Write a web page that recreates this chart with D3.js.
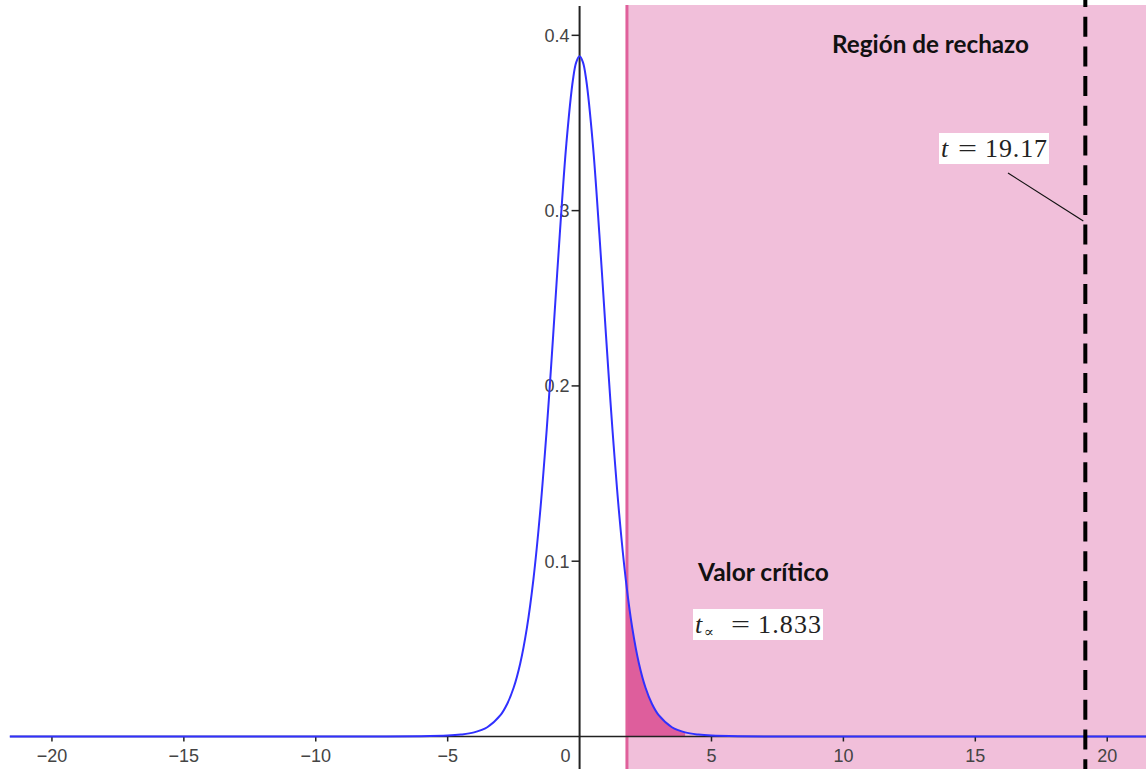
<!DOCTYPE html>
<html>
<head>
<meta charset="utf-8">
<script src="https://cdn.jsdelivr.net/npm/d3@7"></script>
<style>
  html, body { margin: 0; padding: 0; background: #ffffff; }
  svg { display: block; }
</style>
</head>
<body>
<svg id="chart" width="1146" height="769"></svg>
<script>
// ---- data ----
const curveX = [-21.6, -10, -8, -6, -5, -4.5, -4, -3.5, -3, -2.75, -2.5, -2.25, -2, -1.75, -1.5, -1.25, -1.125, -1, -0.75, -0.5, -0.25, -0.125, 0,
                0.125, 0.25, 0.5, 0.75, 1, 1.125, 1.25, 1.5, 1.75, 2, 2.25, 2.5, 2.75, 3, 3.5, 4, 4.5, 5, 6, 8, 10, 21.6];
const curveY = [0, 0.000002, 0.000013, 0.000124, 0.000504, 0.0011, 0.00235, 0.00529, 0.01213, 0.0184, 0.0278, 0.0417, 0.0617, 0.0897, 0.1272, 0.1743, 0.2010, 0.2291, 0.2866, 0.3384, 0.3748, 0.3847, 0.3880,
                0.3847, 0.3748, 0.3384, 0.2866, 0.2291, 0.2010, 0.1743, 0.1272, 0.0897, 0.0617, 0.0417, 0.0278, 0.0184, 0.01213, 0.00529, 0.00235, 0.0011, 0.000504, 0.000124, 0.000013, 0.000002, 0];
const tailX = [1.833, 2, 2.25, 2.5, 2.75, 3, 3.5, 4];
const tailY = [0.0794, 0.0617, 0.0417, 0.0278, 0.0184, 0.01213, 0.00529, 0.00235];
const xTicks = [-20, -15, -10, -5, 5, 10, 15, 20];
const xTickLabels = ["\u221220", "\u221215", "\u221210", "\u22125", "5", "10", "15", "20"];
const yTicks = [0.1, 0.2, 0.3, 0.4];
const yTickLabels = ["0.1", "0.2", "0.3", "0.4"];
const criticalValue = 1.833;
const tStatistic = 19.17;
const regionLabel = "Región de rechazo";
const criticalLabel = "Valor crítico";
const tStatLabel = "19.17";
const criticalNumLabel = "1.833";

// ---- layout ----
const W = 1146, H = 769;
const svg = d3.select("#chart");
const x = d3.scaleLinear().domain([-21.59, 21.47]).range([10, 1146]);
const y = d3.scaleLinear().domain([-0.01854, 0.4173]).range([769, 5]);

// rejection region
svg.append("rect")
  .attr("x", x(criticalValue)).attr("y", 5)
  .attr("width", W - x(criticalValue)).attr("height", H - 5)
  .attr("fill", "#f1bfda");

// shaded tail area
const tail = tailX.map((v, i) => [v, tailY[i]]);
svg.append("path")
  .datum(tail)
  .attr("d", d3.area().x(d => x(d[0])).y0(y(0)).y1(d => y(d[1])).curve(d3.curveCatmullRom))
  .attr("fill", "#de5e9c");

// critical line
svg.append("line")
  .attr("x1", x(criticalValue) - 1).attr("x2", x(criticalValue) - 1)
  .attr("y1", 5).attr("y2", H)
  .attr("stroke", "#e0609b").attr("stroke-width", 3);

const sans = "'Liberation Sans', Arial, sans-serif";
// x axis
const xAxisG = svg.append("g").attr("transform", `translate(0,${y(0)})`);
xAxisG.append("line").attr("x1", 10).attr("x2", W).attr("y1", 0).attr("y2", 0)
  .attr("stroke", "#222").attr("stroke-width", 1.5);
xAxisG.selectAll("line.tick").data(xTicks).enter().append("line")
  .attr("class", "tick")
  .attr("x1", d => x(d)).attr("x2", d => x(d)).attr("y1", 0).attr("y2", 5)
  .attr("stroke", "#222").attr("stroke-width", 1.5);
xAxisG.selectAll("text.tl").data(xTicks).enter().append("text")
  .attr("class", "tl")
  .attr("x", d => x(d)).attr("y", 25)
  .attr("text-anchor", "middle")
  .attr("font-family", sans)
  .attr("font-size", 18).attr("fill", "#444")
  .text((d, i) => xTickLabels[i]);
xAxisG.append("text")
  .attr("x", x(0) - 9).attr("y", 25)
  .attr("text-anchor", "end")
  .attr("font-family", sans)
  .attr("font-size", 18).attr("fill", "#444")
  .text("0");

// y axis
const yAxisG = svg.append("g").attr("transform", `translate(${x(0)},0)`);
yAxisG.append("line").attr("x1", 0).attr("x2", 0).attr("y1", 6).attr("y2", H)
  .attr("stroke", "#222").attr("stroke-width", 2);
yAxisG.selectAll("line.tick").data(yTicks).enter().append("line")
  .attr("class", "tick")
  .attr("x1", -8).attr("x2", 0).attr("y1", d => y(d)).attr("y2", d => y(d))
  .attr("stroke", "#222").attr("stroke-width", 1.5);
yAxisG.selectAll("text.tl").data(yTicks).enter().append("text")
  .attr("class", "tl")
  .attr("x", -10).attr("y", d => y(d))
  .attr("dy", "0.35em")
  .attr("text-anchor", "end")
  .attr("font-family", sans)
  .attr("font-size", 18).attr("fill", "#444")
  .text((d, i) => yTickLabels[i]);

// density curve
const curve = curveX.map((v, i) => [v, curveY[i]]);
svg.append("path")
  .datum(curve)
  .attr("d", d3.line().x(d => x(d[0])).y(d => y(d[1])).curve(d3.curveCatmullRom))
  .attr("fill", "none").attr("stroke", "#3030ff").attr("stroke-width", 2);

// t statistic dashed line
svg.append("line")
  .attr("x1", x(tStatistic)).attr("x2", x(tStatistic))
  .attr("y1", 0).attr("y2", H)
  .attr("stroke", "#000").attr("stroke-width", 4)
  .attr("stroke-dasharray", "20,9.7").attr("stroke-dashoffset", 13);

// leader line
svg.append("line")
  .attr("x1", 1008).attr("y1", 173).attr("x2", x(tStatistic) - 2).attr("y2", 221)
  .attr("stroke", "#111").attr("stroke-width", 1.2);

// text helpers
function boldLabel(txt, xL, yC, targetW) {
  const t = svg.append("text")
    .attr("x", xL).attr("y", yC).attr("dy", "0.35em")
    .attr("font-family", "Lato, 'Open Sans', sans-serif")
    .attr("font-weight", "bold").attr("font-size", 21)
    .attr("fill", "#111").text(txt);
  const w = t.node().getComputedTextLength();
  t.attr("font-size", 21 * targetW / w);
}
boldLabel(regionLabel, 832, 45, 197);
boldLabel(criticalLabel, 698, 572, 131);

const serif = "'Liberation Serif', 'DejaVu Serif', serif";
// box for the t statistic
svg.append("rect").attr("x", 939).attr("y", 133).attr("width", 110).attr("height", 31).attr("fill", "#fff");
const g1 = svg.append("g").attr("font-family", serif).attr("fill", "#222").attr("font-size", 26);
g1.append("text").attr("x", 941).attr("y", 157).attr("font-style", "italic").text("t");
g1.append("text").attr("x", 958).attr("y", 157).attr("textLength", 19).attr("lengthAdjust", "spacingAndGlyphs").text("=");
g1.append("text").attr("x", 985).attr("y", 157).attr("textLength", 62).attr("lengthAdjust", "spacing").text(tStatLabel);

// box for the critical value
svg.append("rect").attr("x", 693).attr("y", 609).attr("width", 130).attr("height", 31).attr("fill", "#fff");
const g2 = svg.append("g").attr("font-family", serif).attr("fill", "#222");
g2.append("text").attr("x", 695).attr("y", 633).attr("font-size", 26).attr("font-style", "italic").text("t");
g2.append("text").attr("x", 704).attr("y", 637).attr("font-size", 15).text("\u221D");
g2.append("text").attr("x", 731).attr("y", 633).attr("font-size", 26).attr("textLength", 19).attr("lengthAdjust", "spacingAndGlyphs").text("=");
g2.append("text").attr("x", 758).attr("y", 633).attr("font-size", 26).attr("textLength", 63).attr("lengthAdjust", "spacing").text(criticalNumLabel);
</script>
</body>
</html>
